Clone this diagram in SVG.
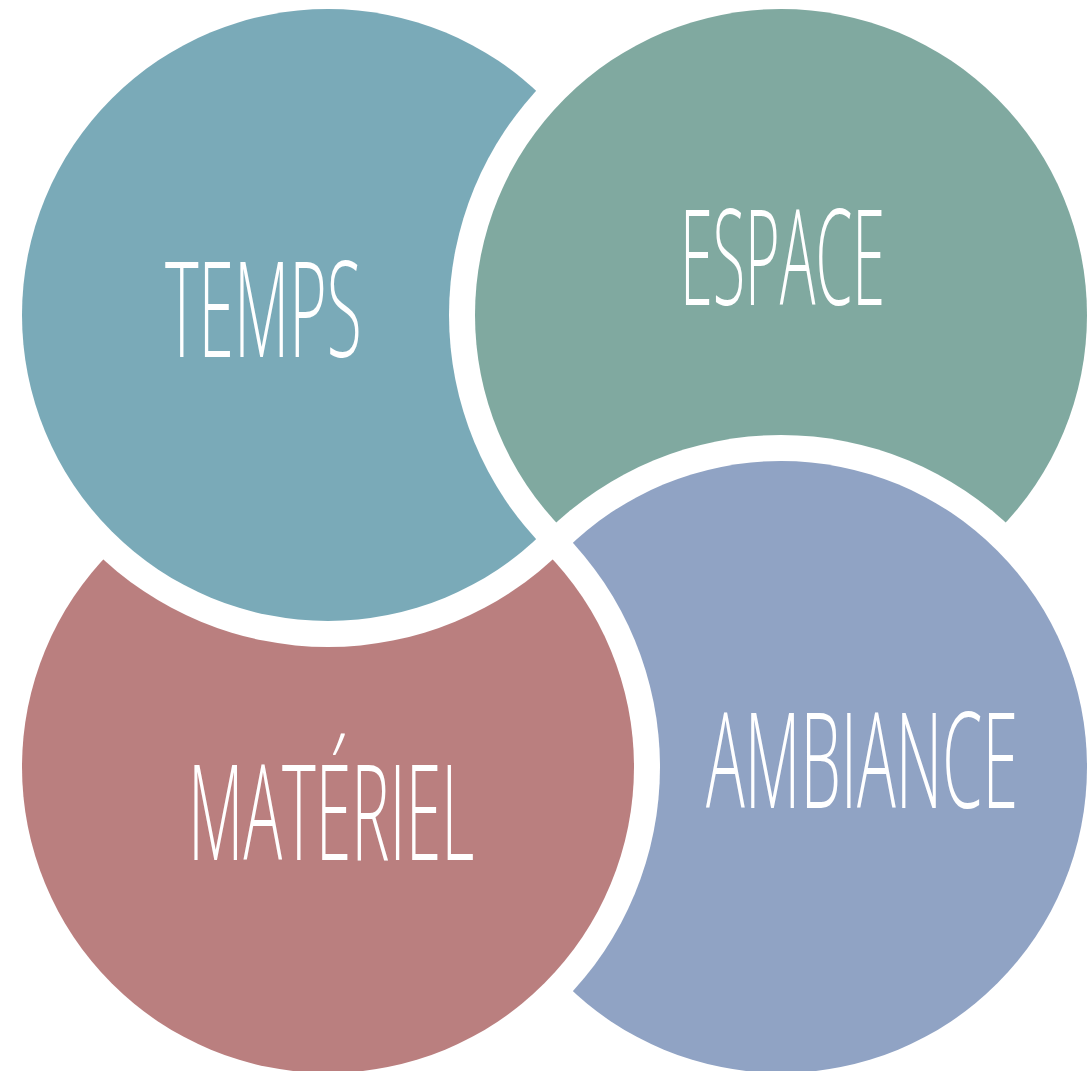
<svg xmlns="http://www.w3.org/2000/svg" width="1089" height="1071" viewBox="0 0 1089 1071">
<style>
.lbl{font-family:"Open Sans","Liberation Sans",sans-serif;font-weight:300;font-size:132px;fill:#ffffff;}
</style>
<defs>
<mask id="cutE" maskUnits="userSpaceOnUse" x="0" y="0" width="1089" height="1071">
<rect x="0" y="0" width="1089" height="1071" fill="#fff"/>
<circle cx="781" cy="315" r="332" fill="#000"/>
</mask>
<mask id="cutA" maskUnits="userSpaceOnUse" x="0" y="0" width="1089" height="1071">
<rect x="0" y="0" width="1089" height="1071" fill="#fff"/>
<circle cx="781" cy="767" r="332" fill="#000"/>
</mask>
<mask id="cutM" maskUnits="userSpaceOnUse" x="0" y="0" width="1089" height="1071">
<rect x="0" y="0" width="1089" height="1071" fill="#fff"/>
<circle cx="328" cy="767" r="332" fill="#000"/>
</mask>
<mask id="cutT" maskUnits="userSpaceOnUse" x="0" y="0" width="1089" height="1071">
<rect x="0" y="0" width="1089" height="1071" fill="#fff"/>
<circle cx="328" cy="315" r="332" fill="#000"/>
</mask>
</defs>
<rect x="0" y="0" width="1089" height="1071" fill="#ffffff"/>
<g id="connectors"></g>
<g id="temps">
<circle cx="328" cy="315" r="306" fill="#7AAAB8" mask="url(#cutE)"/>
<text class="lbl" transform="translate(165,357) scale(0.48,1)" x="0" y="0" textLength="410" lengthAdjust="spacingAndGlyphs">TEMPS</text>
</g>
<g id="espace">
<circle cx="781" cy="315" r="306" fill="#80A9A0" mask="url(#cutA)"/>
<text class="lbl" transform="translate(680,305) scale(0.48,1)" x="0" y="0" textLength="427" lengthAdjust="spacingAndGlyphs">ESPACE</text>
</g>
<g id="ambiance">
<circle cx="781" cy="767" r="306" fill="#90A3C4" mask="url(#cutM)"/>
<text class="lbl" transform="translate(706,808) scale(0.48,1)" x="0" y="0" textLength="650" lengthAdjust="spacingAndGlyphs">AMBIANCE</text>
</g>
<g id="materiel">
<circle cx="328" cy="767" r="306" fill="#BA7F7F" mask="url(#cutT)"/>
<text class="lbl" transform="translate(188,860) scale(0.48,1)" x="0" y="0" textLength="596" lengthAdjust="spacingAndGlyphs">MATÉRIEL</text>
</g>
</svg>
